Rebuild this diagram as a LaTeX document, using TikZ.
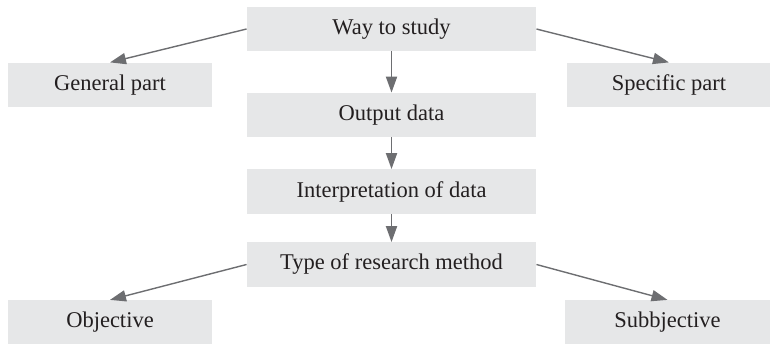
\documentclass[tikz,border=0pt]{standalone}
\usepackage{fontspec}
\setmainfont{Liberation Serif}
\usetikzlibrary{arrows.meta}
\definecolor{boxgray}{HTML}{E6E7E8}
\definecolor{arrowgray}{HTML}{6D6E71}
\definecolor{textgray}{HTML}{231F20}

\begin{document}
\begin{tikzpicture}[
  midbox/.style={rectangle, fill=boxgray, text=textgray, inner sep=0pt, minimum width=5.08cm, minimum height=0.775cm, font=\rmfamily\fontsize{11.25}{13.5}\selectfont},
  sidebox/.style={rectangle, fill=boxgray, text=textgray, inner sep=0pt, minimum width=3.57cm, minimum height=0.78cm, font=\rmfamily\fontsize{11.25}{13.5}\selectfont},
  link/.style={-{Triangle[length=8pt,width=5.6pt]}, draw=arrowgray, line width=0.7pt},
]

\useasboundingbox (0,0) rectangle (13.531,-6.045);

\node[midbox] (way) at (6.88,-0.51) {Way to study};
\node[sidebox] (gen) at (1.933,-1.494) {General part};
\node[sidebox] (spec) at (11.756,-1.494) {Specific part};

\node[midbox] (out) at (6.88,-2.021) {Output data};
\node[midbox] (interp) at (6.88,-3.365) {Interpretation of data};
\node[midbox] (type) at (6.88,-4.648) {Type of research method};

\node[sidebox] (obj) at (1.933,-5.667) {Objective};
\node[sidebox, minimum width=3.6cm] (subj) at (11.73,-5.667) {Subbjective};

\draw[link] (way.west) -- (gen.north);
\draw[link] (way.east) -- (spec.north);
\draw[link] (way) -- (out);
\draw[link] (out) -- (interp);
\draw[link] (interp) -- (type);

\draw[link] (type.west) -- (obj.north);
\draw[link] (type.east) -- (subj.north);

\end{tikzpicture}
\end{document}
